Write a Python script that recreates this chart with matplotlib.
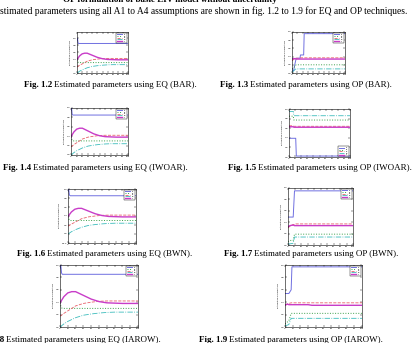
import matplotlib
matplotlib.use("Agg")
import matplotlib.pyplot as plt

W, H = 412, 343

# EQ technique: shared convergence curves (iteration vs. estimate)
eq_iters = [0, 1, 2, 3, 5, 10, 15, 20, 30, 40, 50, 60, 70, 80, 90, 100]
eq_a1 = [0.95, 1.0, 0.87, 0.85, 0.85, 0.85, 0.85, 0.85, 0.85, 0.85, 0.85, 0.85, 0.85, 0.85, 0.85, 0.85]
eq_a2 = [0.39, 0.34, 0.31, 0.30, 0.30, 0.30, 0.30, 0.30, 0.30, 0.30, 0.30, 0.30, 0.30, 0.30, 0.30, 0.30]
eq_b1 = [0.18, 0.18, 0.19, 0.20, 0.22, 0.26, 0.30, 0.34, 0.38, 0.40, 0.415, 0.42, 0.42, 0.42, 0.42, 0.42]
eq_b2 = [0.0, 0.01, 0.02, 0.03, 0.05, 0.09, 0.12, 0.15, 0.19, 0.21, 0.225, 0.235, 0.24, 0.24, 0.24, 0.24]
eq_c = [0.39, 0.41, 0.43, 0.45, 0.49, 0.55, 0.57, 0.57, 0.51, 0.45, 0.41, 0.39, 0.385, 0.38, 0.38, 0.38]

# OP technique (BAR)
op_bar_iters = [0, 3, 6, 8, 10, 15, 16, 22, 23, 40, 100]
op_bar_a1 = [0.08, 0.05, 0.25, 0.36, 0.36, 0.36, 0.44, 0.44, 0.96, 0.96, 0.96]
op_bar_a2 = [0.10, 0.12, 0.18, 0.20, 0.20, 0.20, 0.20, 0.20, 0.20, 0.20, 0.20]
op_bar_b1 = [0.30, 0.33, 0.36, 0.36, 0.36, 0.37, 0.37, 0.37, 0.37, 0.37, 0.37]
op_bar_b2 = [0.02, 0.05, 0.09, 0.10, 0.10, 0.10, 0.10, 0.10, 0.10, 0.10, 0.10]
op_bar_c = [0.34, 0.35, 0.35, 0.34, 0.34, 0.34, 0.34, 0.34, 0.34, 0.34, 0.34]

# OP technique (IWOAR)
op_iwoar_iters = [0, 7, 8, 11, 12, 30, 100]
op_iwoar_a1 = [0.39, 0.39, 0.39, 0.39, 0.02, 0.02, 0.02]
op_iwoar_a2 = [0.85, 0.85, 0.77, 0.77, 0.77, 0.77, 0.77]
op_iwoar_b1 = [0.65, 0.65, 0.64, 0.64, 0.64, 0.64, 0.64]
op_iwoar_b2 = [0.95, 0.95, 0.86, 0.86, 0.86, 0.86, 0.86]
op_iwoar_c = [0.63, 0.63, 0.62, 0.62, 0.62, 0.62, 0.62]

# OP technique (BWN)
op_bwn_iters = [0, 3, 8, 10, 12, 30, 100]
op_bwn_a1 = [0.49, 0.49, 0.49, 0.95, 0.95, 0.95, 0.95]
op_bwn_a2 = [0.06, 0.08, 0.08, 0.19, 0.19, 0.19, 0.19]
op_bwn_b1 = [0.30, 0.33, 0.36, 0.36, 0.37, 0.37, 0.37]
op_bwn_b2 = [0.02, 0.02, 0.03, 0.14, 0.14, 0.14, 0.14]
op_bwn_c = [0.32, 0.34, 0.35, 0.34, 0.34, 0.34, 0.34]

# OP technique (IAROW)
op_iarow_iters = [0, 3, 5, 8, 9, 30, 35, 100]
op_iarow_a1 = [0.54, 0.54, 0.54, 0.60, 0.97, 0.97, 0.97, 0.97]
op_iarow_a2 = [0.05, 0.08, 0.10, 0.22, 0.22, 0.22, 0.22, 0.22]
op_iarow_b1 = [0.36, 0.37, 0.38, 0.39, 0.39, 0.39, 0.39, 0.39]
op_iarow_b2 = [0.02, 0.03, 0.04, 0.14, 0.14, 0.14, 0.14, 0.14]
op_iarow_c = [0.35, 0.37, 0.36, 0.36, 0.36, 0.36, 0.35, 0.35]

labels = ["a1", "a2", "b1", "b2", "c"]
styles = [
    dict(color="#6f6fe0", ls="-", lw=0.7),
    dict(color="#3aa04a", ls=":", lw=0.7),
    dict(color="#e8606a", ls="--", lw=0.6),
    dict(color="#3cbcbc", ls="-.", lw=0.6),
    dict(color="#c83cc8", ls="-", lw=1.0),
]

FONT = "Liberation Serif"
FS = 6.5


def px_axes(fig, l, r, t, b):
    return fig.add_axes([l / W, 1 - b / H, (r - l) / W, (b - t) / H])


def draw_panel(ax, x, series, ylim, legend_loc="upper right"):
    for y, st, lab in zip(series, styles, labels):
        ax.plot(x, y, label=lab, **st)
    ax.set_xlim(0, 100)
    ax.set_ylim(*ylim)
    ax.set_xticks(range(0, 101, 10))
    ax.tick_params(direction="in", length=1.2, width=0.3, labelsize=1.6, pad=0.8,
                   top=True, right=True)
    for s in ax.spines.values():
        s.set_linewidth(0.4)
    ax.set_ylabel("Estimated parameters", fontsize=1.6, labelpad=1)
    leg = ax.legend(loc=legend_loc, fontsize=1.4, handlelength=3, borderpad=0.3,
                    labelspacing=0.2, fancybox=False, framealpha=1)
    leg.get_frame().set_linewidth(0.3)
    leg.get_frame().set_edgecolor("black")


def caption(fig, xs, y, num, rest):
    fig.text(xs / W, 1 - y / H, "Fig. " + num, ha="right", va="center",
             fontsize=FS, fontweight="bold", family=FONT)
    fig.text((xs + 2) / W, 1 - y / H, rest, ha="left", va="center",
             fontsize=FS, family=FONT)


fig = plt.figure(figsize=(W / 100, H / 100), dpi=100)

fig.text(63 / W, 1 - 0 / H, "OP formulation of basic EIV model without uncertainty",
         ha="left", va="center", fontsize=FS, fontweight="bold", family=FONT)
fig.text(0, 1 - 11 / H,
         "stimated parameters using all A1 to A4 assumptions are shown in fig. 1.2 to 1.9 for EQ and OP techniques.",
         ha="left", va="center", fontsize=6.85, family=FONT)

eq_series = [eq_a1, eq_a2, eq_b1, eq_b2, eq_c]

ax = px_axes(fig, 77, 128, 32, 73)
draw_panel(ax, eq_iters, eq_series, (0.0, 1.18))
ax = px_axes(fig, 292, 345, 32, 73)
draw_panel(ax, op_bar_iters, [op_bar_a1, op_bar_a2, op_bar_b1, op_bar_b2, op_bar_c], (0, 1))
ax = px_axes(fig, 71, 128, 108, 155)
draw_panel(ax, eq_iters, eq_series, (0.0, 1.0))
ax = px_axes(fig, 289, 350, 109, 157)
draw_panel(ax, op_iwoar_iters, [op_iwoar_a1, op_iwoar_a2, op_iwoar_b1, op_iwoar_b2, op_iwoar_c],
           (0, 1), legend_loc="lower right")
ax = px_axes(fig, 68, 136, 189, 243)
draw_panel(ax, eq_iters, eq_series, (-0.2, 1.0))
ax = px_axes(fig, 288, 353, 188, 245)
draw_panel(ax, op_bwn_iters, [op_bwn_a1, op_bwn_a2, op_bwn_b1, op_bwn_b2, op_bwn_c], (0, 1))
ax = px_axes(fig, 60, 138, 265, 327)
draw_panel(ax, eq_iters, eq_series, (0.0, 1.0))
ax = px_axes(fig, 285, 362, 265, 327)
draw_panel(ax, op_iarow_iters, [op_iarow_a1, op_iarow_a2, op_iarow_b1, op_iarow_b2, op_iarow_c], (0, 1))

caption(fig, 52, 85, "1.2", "Estimated parameters using EQ (BAR).")
caption(fig, 248, 85, "1.3", "Estimated parameters using OP (BAR).")
caption(fig, 31, 168, "1.4", "Estimated parameters using EQ (IWOAR).")
caption(fig, 256, 168, "1.5", "Estimated parameters using OP (IWOAR).")
caption(fig, 45, 254, "1.6", "Estimated parameters using EQ (BWN).")
caption(fig, 252, 254, "1.7", "Estimated parameters using OP (BWN).")
caption(fig, 4, 340, "1.8", "Estimated parameters using EQ (IAROW).")
caption(fig, 227, 340, "1.9", "Estimated parameters using OP (IAROW).")

fig.savefig("out.png", dpi=100)
